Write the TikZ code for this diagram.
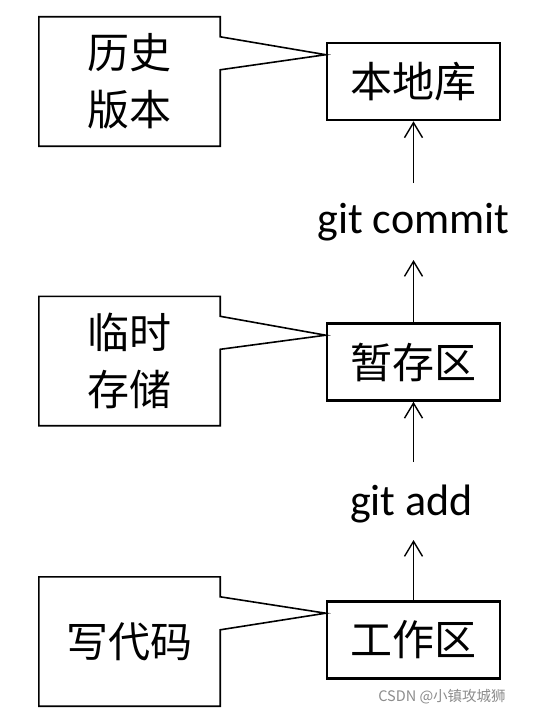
\documentclass[tikz,border=0pt]{standalone}
\usepackage{fontspec}
\newfontfamily\cjk{Noto Sans CJK SC}
\newfontfamily\gitfont{Carlito}
\usetikzlibrary{arrows.meta,calc}
\tikzset{
  mainbox/.style={draw, line width=2.6bp, minimum width=173bp, minimum height=77bp, inner sep=0pt,
    font=\cjk\fontsize{42bp}{50bp}\selectfont},
  note/.style={minimum width=181bp, minimum height=129bp, inner sep=0pt, align=center,
    font=\cjk\fontsize{42bp}{57bp}\selectfont},
  noteline/.style={draw, line width=1.6bp, line join=miter},
  arr/.style={draw, line width=1.4bp, -{Straight Barb[length=15bp,width=18bp,line width=1.4bp]}},
  cmd/.style={anchor=base, inner sep=0pt, font=\gitfont\fontsize{44bp}{50bp}\selectfont},
}
\begin{document}
\begin{tikzpicture}[x=1bp,y=-1bp]
\useasboundingbox[fill=white] (0,0) rectangle (553,715);
% main boxes
\node[mainbox] (repo) at (413.5,81.5) {本地库};
\node[mainbox] (stage) at (413.5,362) {暂存区};
\node[mainbox] (work) at (413.5,640) {工作区};
% commands
\node[cmd] (commit) at (413.5,233) {git commit};
\node[cmd] (add) at (411.5,515) {git add};
\coordinate (c1) at (413.5,183);
\coordinate (c2) at (413.5,260);
\coordinate (c3) at (413.5,462);
\coordinate (c4) at (413.5,540);
\draw[arr] (c1) -- (repo.south);
\draw[arr] (stage.north) -- (c2);
\draw[arr] (c3) -- (stage.south);
\draw[arr] (work.north) -- (c4);
% callouts
\node[note] (hist) at (129.5,81.5) {历史\\版本};
\node[note] (tmp) at (129.5,361) {临时\\存储};
\node[note] (code) at (129.5,641.5) {写代码};
\foreach \n/\m in {hist/repo, tmp/stage, code/work}{
  \draw[noteline] (\n.north west) -- (\n.north east) -- ([yshift=-20bp]\n.north east)
    -- ([yshift=-13bp]\m.north west) -- ([yshift=-53bp]\n.north east)
    -- (\n.south east) -- (\n.south west) -- cycle;
}
% watermark
\node[text=black!45, inner sep=0pt, font=\cjk\fontsize{14.5bp}{16bp}\selectfont] (wm) at (442,697) {CSDN @小镇攻城狮};
\end{tikzpicture}
\end{document}
